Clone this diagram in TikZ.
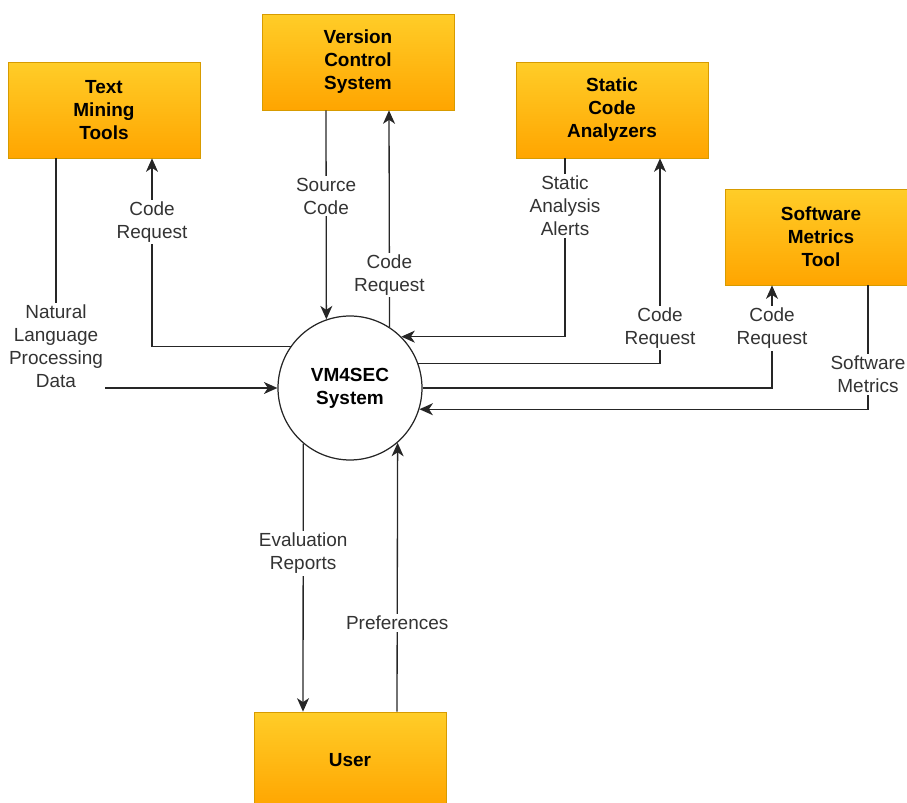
\documentclass[tikz,border=0pt]{standalone}
\usepackage{fontspec}
\setmainfont{Liberation Sans}
\usetikzlibrary{arrows.meta,calc,positioning}
\definecolor{ambar}{HTML}{FFCD28}
\definecolor{naranja}{HTML}{FFA500}
\definecolor{bordenaranja}{HTML}{D79B00}
\definecolor{grisoscuro}{HTML}{333333}
\tikzset{
  entidad/.style={
    draw=bordenaranja,
    top color=ambar,
    bottom color=naranja,
    align=center,
    minimum width=3.84cm,
    minimum height=1.92cm,
    inner sep=0pt,
    font=\fontsize{10.8}{13.1}\selectfont\bfseries
  },
  proceso/.style={
    circle,
    draw=black!85,
    line width=0.7pt,
    fill=white,
    minimum size=2.88cm,
    inner sep=0pt,
    align=center,
    font=\fontsize{10.8}{13.1}\selectfont\bfseries
  },
  etiqueta/.style={
    fill=white,
    inner sep=1pt,
    align=center,
    text=grisoscuro,
    font=\fontsize{10.8}{13.1}\selectfont
  },
  flujo/.style={
    -{Stealth[length=2.7mm,width=2.4mm,inset=0.8mm]},
    line width=0.75pt,
    draw=black!85
  }
}

\begin{document}
\begin{tikzpicture}[x=0.02cm,y=-0.02cm]
\useasboundingbox (0,0) rectangle (907,803);
\node[proceso] (sys) at (350,388) {VM4SEC\\System};
\node[entidad] (tm) at (104,110) {Text\\Mining\\Tools};
\node[entidad] (vcs) at (358,62) {Version\\Control\\System};
\node[entidad] (sca) at (612,110) {Static\\Code\\Analyzers};
\node[entidad] (smt) at (821,237) {Software\\Metrics\\Tool};
\node[entidad] (usr) at (350,760) {User};
% flujos de las herramientas
\draw[flujo] ($(tm.south)+(-48,0)$) |- node[etiqueta,pos=0.41] {Natural\\Language\\Processing\\Data} (sys.west);
\draw[flujo] (sys.145.3) -| node[etiqueta,pos=0.83] {Code\\Request} ($(tm.south)+(48,0)$);
\draw[flujo] ($(vcs.south)+(-32,0)$) -- node[etiqueta,pos=0.41] {Source\\Code} (sys.109.5);
\draw[flujo] (sys.57.2) -- node[etiqueta,pos=0.24] {Code\\Request} ($(vcs.south)+(31,0)$);
\draw[flujo] ($(sca.south)+(-47,0)$) |- node[etiqueta,pos=0.134] {Static\\Analysis\\Alerts} (sys.45.1);
\draw[flujo] (sys.20.3) -| node[etiqueta,pos=0.585] {Code\\Request} ($(sca.south)+(48,0)$);
\draw[flujo] (sys.east) -| node[etiqueta,pos=0.79] {Code\\Request} ($(smt.south)+(-49,0)$);
\draw[flujo] ($(smt.south)+(47,0)$) |- node[etiqueta,pos=0.36] {Software\\Metrics} (sys.-17.8);
% flujos con el usuario
\draw[flujo] (sys.-130.8) -- node[etiqueta,pos=0.41] {Evaluation\\Reports} ($(usr.north)+(-47,0)$);
\draw[flujo] ($(usr.north)+(47,0)$) -- node[etiqueta,pos=0.33] {Preferences} (sys.-49.2);
\end{tikzpicture}
\end{document}
